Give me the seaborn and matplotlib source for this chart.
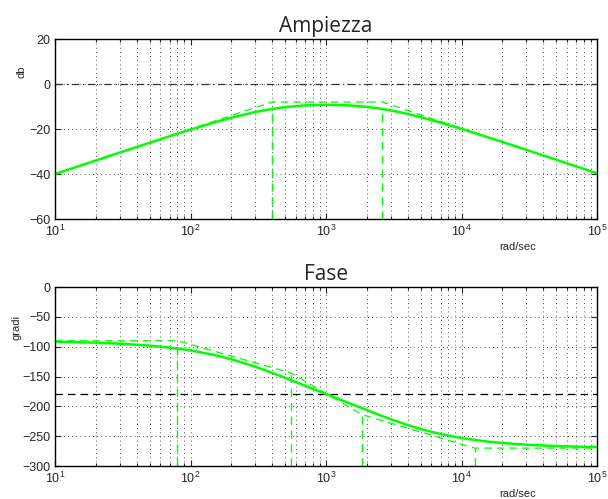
import matplotlib
matplotlib.use("Agg")
import matplotlib.pyplot as plt
import seaborn as sns
import numpy as np

# ---- data ----
freq = [10, 20, 30, 50, 70, 100, 150, 200, 300, 400, 500, 700, 1000, 1500, 2000,
        2600, 3000, 4000, 5000, 7000, 10000, 15000, 20000, 30000, 50000, 70000, 100000]
mag_db = [-40.0, -33.99, -30.48, -26.09, -23.23, -20.27, -17.07, -14.97, -12.46, -11.07,
          -10.27, -9.49, -9.20, -9.51, -10.15, -11.07, -11.72, -13.27, -14.71, -17.14,
          -19.95, -23.31, -25.75, -29.23, -33.65, -36.57, -39.66]
phase_deg = [-91.65, -93.30, -94.95, -98.23, -101.47, -106.24, -113.86, -120.97, -133.45,
             -143.75, -152.23, -165.33, -179.24, -195.05, -206.26, -216.25, -221.50,
             -231.27, -237.96, -246.35, -253.14, -258.64, -261.44, -264.29, -266.56,
             -267.54, -268.28]

mag_asym_w = [10, 400, 2600, 100000]
mag_asym_db = [-40, -8, -8, -39.7]
mag_vert_w = [400, 2600]
mag_vert_top = [-11.0, -11.0]

ph_asym_w = [10, 80, 550, 1850, 12500, 100000]
ph_asym_deg = [-90, -90, -144, -214, -270, -270]
ph_vert_w = [80, 550, 1850, 12500]
ph_vert_top = [-90, -144, -214, -270]

mag_ticks = [20, 0, -20, -40, -60]
phase_ticks = [0, -50, -100, -150, -200, -250, -300]

# ---- style ----
sns.set_style("ticks")
plt.rcParams['font.family'] = ['Liberation Sans', 'DejaVu Sans']
plt.rcParams['mathtext.fontset'] = 'custom'
plt.rcParams['mathtext.rm'] = 'Liberation Sans'
plt.rcParams['mathtext.it'] = 'Liberation Sans'

GREEN = '#00ff00'

fig = plt.figure(figsize=(6.08, 4.99), dpi=100)
ax1 = fig.add_axes([0.0905, 0.5611, 0.8914, 0.3607])
ax2 = fig.add_axes([0.0905, 0.0661, 0.8914, 0.3587])


def style_axis(ax, yticks, ylim):
    ax.set_xscale('log')
    ax.set_xlim(10, 100000)
    ax.set_ylim(*ylim)
    ax.set_yticks(yticks)
    ax.grid(True, which='major', axis='both', color='#222222', linestyle=(0, (1, 4)), linewidth=0.6)
    ax.grid(True, which='minor', axis='x', color='#222222', linestyle=(0, (1, 4)), linewidth=0.6)
    ax.tick_params(which='both', direction='in', top=True, right=True, labelsize=9, width=0.8)
    ax.tick_params(which='major', length=4)
    ax.tick_params(which='minor', length=2)
    for s in ax.spines.values():
        s.set_linewidth(1.0)
        s.set_color('black')
    ax.set_xlabel('')
    ax.set_ylabel('')


# ---- magnitude ----
ax1.axhline(0, color='#333333', linestyle=(0, (6, 3, 1, 3)), linewidth=0.9)
for w, top in zip(mag_vert_w, mag_vert_top):
    ax1.plot([w, w], [-60, top], color=GREEN, linestyle=(0, (6, 4)), linewidth=1.0)
sns.lineplot(x=mag_asym_w, y=mag_asym_db, ax=ax1, color=GREEN, linewidth=0.9,
             linestyle=(0, (6, 4)), estimator=None, sort=False)
sns.lineplot(x=freq, y=mag_db, ax=ax1, color=GREEN, linewidth=1.8, estimator=None, sort=False)
style_axis(ax1, mag_ticks, (-60, 20))
ax1.set_title('Ampiezza', family=['Open Sans', 'DejaVu Sans'], fontsize=15, pad=5)
fig.text(0.036, 0.856, 'db', rotation=90, fontsize=8, ha='center', va='center')
ax1.text(0.854, -0.156, 'rad/sec', transform=ax1.transAxes, fontsize=8, ha='center', va='center')

# ---- phase ----
ax2.axhline(-180, color='black', linestyle=(0, (6, 4)), linewidth=0.9)
for w, top in zip(ph_vert_w, ph_vert_top):
    ax2.plot([w, w], [-300, top], color=GREEN, linestyle=(0, (6, 4)), linewidth=1.0)
sns.lineplot(x=ph_asym_w, y=ph_asym_deg, ax=ax2, color=GREEN, linewidth=0.9,
             linestyle=(0, (6, 4)), estimator=None, sort=False)
sns.lineplot(x=freq, y=phase_deg, ax=ax2, color=GREEN, linewidth=1.8, estimator=None, sort=False)
style_axis(ax2, phase_ticks, (-300, 0))
ax2.set_title('Fase', family=['Open Sans', 'DejaVu Sans'], fontsize=15, pad=5)
fig.text(0.027, 0.343, 'gradi', rotation=90, fontsize=8, ha='center', va='center')
ax2.text(0.854, -0.156, 'rad/sec', transform=ax2.transAxes, fontsize=8, ha='center', va='center')

fig.savefig('out.png', dpi=100)
